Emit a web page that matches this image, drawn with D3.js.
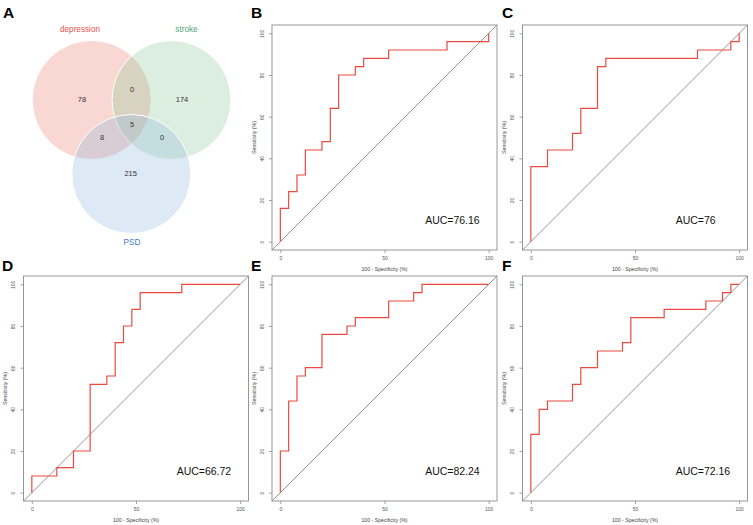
<!DOCTYPE html>
<html>
<head>
<meta charset="utf-8">
<script src="https://cdn.jsdelivr.net/npm/d3@7"></script>
<style>
  body { margin: 0; background: #fff; }
  svg { display: block; font-family: "Liberation Sans", Arial, sans-serif; }
</style>
</head>
<body>
<div class="canvas"></div>
<script>
// venn counts
const vennSets = ["depression", "stroke", "PSD"];
const vennOnly = [78, 174, 215];
const vennPairs = [0, 8, 0]; // dep&stroke, dep&PSD, stroke&PSD
const vennAll = 5;

// ROC curves (100 - specificity, sensitivity) corner points
const panelNames = ["B", "C", "D", "E", "F"];
const fprB = [0, 4, 8, 12, 20, 24, 28, 36, 40, 52, 80, 100, 100];
const tprB = [0, 16, 24, 32, 44, 48, 64, 80, 84, 88, 92, 96, 100];
const fprC = [0, 8, 20, 24, 32, 36, 80, 96, 100, 100];
const tprC = [0, 36, 44, 52, 64, 84, 88, 92, 96, 100];
const fprD = [0, 12, 20, 28, 36, 40, 44, 48, 52, 72, 100];
const tprD = [0, 8, 12, 20, 52, 56, 72, 80, 88, 96, 100];
const fprE = [0, 4, 8, 12, 20, 32, 36, 52, 64, 68, 100];
const tprE = [0, 20, 44, 56, 60, 76, 80, 84, 92, 96, 100];
const fprF = [0, 4, 8, 20, 24, 32, 44, 48, 64, 84, 92, 96, 100];
const tprF = [0, 28, 40, 44, 52, 60, 68, 72, 84, 88, 92, 96, 100];
const aucLabels = ["AUC=76.16", "AUC=76", "AUC=66.72", "AUC=82.24", "AUC=72.16"];
const xTicks = [0, 50, 100];
const yTicks = [0, 20, 40, 60, 80, 100];

const width = 753;
const height = 525;

const svg = d3
  .select(".canvas")
  .append("svg")
  .attr("width", width)
  .attr("height", height);

// ---- panel letters
const letters = [
  ["A", 3, 18],
  ["B", 251, 18],
  ["C", 502, 18],
  ["D", 2, 271],
  ["E", 251, 271],
  ["F", 502, 271],
];
svg
  .selectAll("text.letter")
  .data(letters)
  .enter()
  .append("text")
  .attr("class", "letter")
  .attr("x", (d) => d[1])
  .attr("y", (d) => d[2])
  .attr("font-size", 15.5)
  .attr("font-weight", "bold")
  .text((d) => d[0]);

// ---- venn diagram (panel A)
const venn = svg.append("g").attr("class", "venn");
const circles = [
  { cx: 91.7, cy: 100, fill: "rgb(235,122,105)", label: "#e8524a", lx: 80, ly: 32 },
  { cx: 171.5, cy: 100, fill: "rgb(138,198,152)", label: "#4fa57c", lx: 186.5, ly: 32 },
  { cx: 131.3, cy: 174, fill: "rgb(142,182,222)", label: "#3f7cbf", lx: 132, ly: 244.5 },
];
const r = 59.5;

venn
  .selectAll("circle")
  .data(circles)
  .enter()
  .append("circle")
  .attr("cx", (d) => d.cx)
  .attr("cy", (d) => d.cy)
  .attr("r", r)
  .attr("fill", (d) => d.fill)
  .attr("fill-opacity", 0.3)
  .attr("stroke", "#fff")
  .attr("stroke-width", 1);

venn
  .selectAll("text.setlabel")
  .data(circles)
  .enter()
  .append("text")
  .attr("class", "setlabel")
  .attr("x", (d) => d.lx)
  .attr("y", (d) => d.ly)
  .attr("text-anchor", "middle")
  .attr("font-size", 8.2)
  .attr("fill", (d) => d.label)
  .text((d, i) => vennSets[i]);

const countPos = [
  [82, 99.5, vennOnly[0]],
  [182, 99.5, vennOnly[1]],
  [130.7, 173.7, vennOnly[2]],
  [132, 89, vennPairs[0]],
  [102, 137, vennPairs[1]],
  [162, 137, vennPairs[2]],
  [132, 124.5, vennAll],
];
venn
  .selectAll("text.count")
  .data(countPos)
  .enter()
  .append("text")
  .attr("class", "count")
  .attr("x", (d) => d[0])
  .attr("y", (d) => d[1])
  .attr("dy", "0.35em")
  .attr("text-anchor", "middle")
  .attr("font-size", 7.5)
  .attr("fill", "#333")
  .text((d) => d[2]);

// ---- ROC panels
const fprs = [fprB, fprC, fprD, fprE, fprF];
const tprs = [tprB, tprC, tprD, tprE, tprF];
const layout = [
  { x: 272, y: 25 },
  { x: 522.5, y: 25 },
  { x: 23.5, y: 276 },
  { x: 272, y: 276 },
  { x: 522.5, y: 276 },
];
const boxSize = 225;

panelNames.forEach((name, i) => {
  const pos = layout[i];
  const g = svg
    .append("g")
    .attr("class", "roc")
    .attr("transform", `translate(${pos.x},${pos.y})`);

  const x = d3.scaleLinear().domain([-4, 104]).range([0, boxSize]);
  const y = d3.scaleLinear().domain([-4, 104]).range([boxSize, 0]);

  g.append("rect")
    .attr("width", boxSize)
    .attr("height", boxSize)
    .attr("fill", "none")
    .attr("stroke", "#8c8c8c")
    .attr("stroke-width", 0.9);

  // diagonal
  g.append("line")
    .attr("x1", x(-4))
    .attr("y1", y(-4))
    .attr("x2", x(104))
    .attr("y2", y(104))
    .attr("stroke", "#7a7a7a")
    .attr("stroke-width", 0.8);

  const points = fprs[i].map((d, j) => [d, tprs[i][j]]);
  const line = d3
    .line()
    .x((d) => x(d[0]))
    .y((d) => y(d[1]))
    .curve(d3.curveStepBefore);

  g.append("path")
    .datum(points)
    .attr("d", line)
    .attr("fill", "none")
    .attr("stroke", "#ea4a40")
    .attr("stroke-width", 1.2);

  // axes
  const xAxis = d3.axisBottom(x).tickValues(xTicks).tickSize(3).tickPadding(3);
  const gx = g
    .append("g")
    .attr("transform", `translate(0,${boxSize})`)
    .call(xAxis);
  gx.select(".domain").remove();
  gx.selectAll("line").attr("stroke", "#8c8c8c").attr("stroke-width", 0.8);
  gx.selectAll("text")
    .attr("font-size", 5)
    .attr("fill", "#555")
    .attr("font-family", "Liberation Sans, Arial, sans-serif");

  const yAxis = d3.axisLeft(y).tickValues(yTicks).tickSize(3);
  const gy = g.append("g").call(yAxis);
  gy.select(".domain").remove();
  gy.selectAll("line").attr("stroke", "#8c8c8c").attr("stroke-width", 0.8);
  gy.selectAll("text")
    .attr("font-size", 5)
    .attr("fill", "#555")
    .attr("font-family", "Liberation Sans, Arial, sans-serif")
    .attr("transform", "rotate(-90)")
    .attr("x", 0)
    .attr("y", -10)
    .attr("dy", "0.35em")
    .attr("text-anchor", "middle");

  g.append("text")
    .attr("x", boxSize / 2)
    .attr("y", boxSize + 20.5)
    .attr("text-anchor", "middle")
    .attr("font-size", 5.2)
    .attr("fill", "#444")
    .text("100 - Specificity (%)");

  g.append("text")
    .attr("transform", `translate(-18,${boxSize / 2}) rotate(-90)`)
    .attr("text-anchor", "middle")
    .attr("dy", "0.35em")
    .attr("font-size", 5.2)
    .attr("fill", "#444")
    .text("Sensitivity (%)");

  g.append("text")
    .attr("x", x(69.5))
    .attr("y", y(8.5))
    .attr("font-size", 10.5)
    .attr("fill", "#111")
    .text(aucLabels[i]);
});
</script>
</body>
</html>
